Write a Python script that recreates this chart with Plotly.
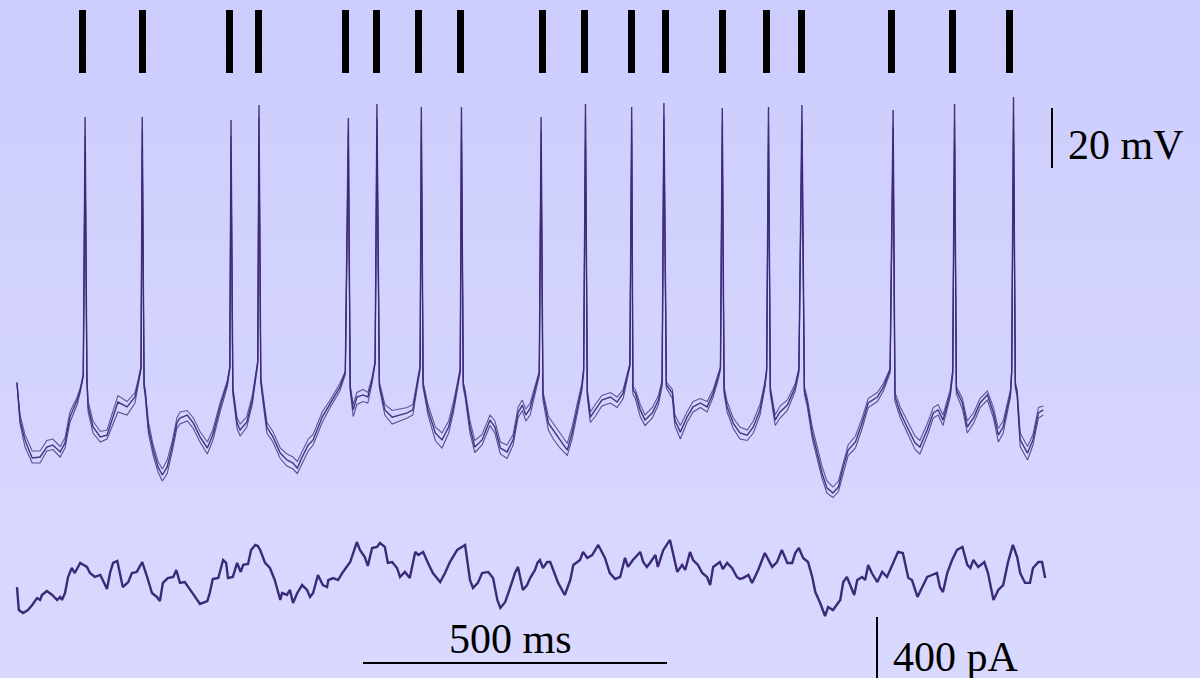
import plotly.graph_objects as go

# ---------------- data ----------------
# spike raster (ms)
spike_times_ms = [107, 206, 350, 398, 541, 591, 660, 729, 864, 934,
                  1010, 1066, 1160, 1232, 1291, 1439, 1538, 1632]

# membrane potential, sample times (ms)
t_ms = [0, 5, 13, 25, 38, 49, 59, 71, 79, 87, 99, 104, 109,
        112, 115,
        117, 125, 137, 148, 158, 166, 181, 194, 199, 204,
        206, 209,
        211, 216, 224, 232, 239, 247, 255, 263, 268, 280, 290, 301, 313, 322, 334, 346, 350,
        352, 355,
        362, 367, 378, 387, 392, 396,
        398, 401,
        405, 411, 421, 433, 444, 454, 461, 469, 479, 487, 502, 515, 531, 540,
        545, 548,
        553, 559, 569, 577, 584, 589,
        592, 596,
        605, 617, 630, 642, 651, 658, 663,
        665, 668,
        676, 688, 699, 710, 718, 726, 729,
        731, 734,
        737, 745, 753, 765, 778, 786, 795, 806, 816, 824, 831, 837, 844, 852, 859,
        862, 865,
        874, 882, 893, 905, 913, 921, 929, 932,
        935, 938,
        943, 951, 962, 976, 987, 997, 1005, 1008,
        1011, 1013,
        1017, 1025, 1033, 1045, 1055, 1061,
        1064, 1068,
        1078, 1082, 1091, 1102, 1112, 1124, 1135, 1145, 1153, 1157,
        1160, 1163,
        1168, 1178, 1189, 1201, 1211, 1222, 1230, 1233,
        1236, 1239,
        1247, 1255, 1267, 1280, 1286,
        1291, 1295,
        1300, 1308, 1316, 1324, 1332, 1342, 1351, 1359, 1367, 1379, 1390, 1400, 1415, 1425, 1436,
        1441, 1444,
        1453, 1464, 1477, 1485, 1497, 1507, 1515, 1523, 1535, 1539,
        1542, 1545,
        1555, 1563, 1574, 1584, 1596, 1606, 1614, 1622, 1634, 1636,
        1639, 1642,
        1645, 1650, 1662, 1671, 1680, 1688]

# membrane potential (mV), three overlaid trials
v_trial1 = [-44.3, -56.7, -63.3, -69.3, -69.0, -65.7, -65.0, -67.3, -64.3, -55.7, -50.0, -46.7, -41.7,
            44.3, -43.3,
            -52.3, -59.0, -62.3, -61.7, -55.7, -50.7, -52.3, -49.0, -44.3, -39.0,
            44.3, -45.0,
            -47.7, -59.0, -66.7, -72.3, -75.0, -72.3, -65.7, -57.7, -56.0, -55.0, -57.7, -62.3, -66.0, -61.7, -52.3, -44.3, -39.0,
            43.3, -46.7,
            -57.7, -60.0, -57.3, -50.0, -43.3, -37.3,
            48.3, -43.3,
            -50.0, -59.0, -62.3, -67.7, -70.0, -71.0, -72.7, -69.0, -65.0, -63.3, -55.7, -51.0, -45.7, -40.7,
            44.0, -45.7,
            -53.3, -49.0, -48.3, -49.0, -43.3, -37.3,
            48.7, -45.0,
            -53.3, -55.7, -55.0, -54.3, -53.3, -45.7, -39.0,
            47.7, -45.0,
            -53.3, -61.0, -63.3, -59.0, -52.3, -43.3, -40.0,
            47.7, -45.0,
            -47.7, -59.0, -65.7, -63.3, -56.7, -59.0, -66.0, -67.3, -63.3, -54.3, -51.7, -55.0, -52.7, -46.7, -41.0,
            44.3, -48.3,
            -57.7, -60.0, -63.3, -66.7, -61.0, -53.3, -45.7, -40.0,
            48.7, -47.7,
            -55.7, -53.3, -50.0, -49.0, -50.7, -47.7, -41.0, -38.3,
            47.7, -46.7,
            -47.7, -53.3, -56.7, -54.3, -50.0, -44.3,
            49.0, -45.0,
            -47.7, -56.7, -60.7, -55.7, -52.3, -51.0, -52.3, -47.7, -42.3, -39.3,
            47.3, -46.7,
            -52.3, -57.7, -61.0, -61.7, -59.0, -53.3, -45.0, -40.0,
            47.7, -46.7,
            -56.7, -54.0, -51.7, -45.7, -40.0,
            48.3, -46.7,
            -51.0, -61.0, -67.7, -74.3, -79.3, -81.0, -79.0, -72.3, -66.7, -64.0, -57.7, -51.0, -49.0, -45.7, -40.0,
            46.7, -49.0,
            -54.3, -59.0, -64.3, -65.7, -60.0, -54.3, -53.3, -56.7, -47.7, -40.7,
            48.7, -46.7,
            -51.0, -59.0, -55.7, -51.0, -48.3, -54.3, -61.7, -59.0, -47.7, -40.7,
            51.0, -45.0,
            -47.7, -63.3, -67.7, -63.3, -54.3, -53.3]

v_trial2 = [-44.0, -58.0, -65.5, -71.0, -71.0, -67.0, -66.5, -69.0, -66.0, -57.5, -51.5, -47.5, -42.0,
            38.0, -44.0,
            -54.0, -61.0, -64.0, -63.0, -58.0, -54.0, -55.0, -51.0, -45.5, -40.0,
            40.0, -46.0,
            -49.0, -61.0, -68.5, -74.0, -77.0, -74.5, -67.5, -59.5, -58.0, -57.0, -59.5, -64.0, -68.0, -63.5, -54.0, -45.5, -40.0,
            38.0, -48.0,
            -59.5, -62.0, -59.0, -51.5, -44.5, -38.0,
            44.0, -44.5,
            -51.5, -61.0, -64.0, -69.5, -72.0, -73.0, -74.5, -71.0, -67.0, -65.0, -57.5, -52.5, -47.0, -41.5,
            40.0, -47.0,
            -55.5, -51.5, -50.5, -51.0, -44.5, -38.0,
            44.0, -46.0,
            -55.0, -58.0, -57.0, -56.0, -55.0, -47.0, -40.0,
            43.0, -46.0,
            -55.0, -63.5, -66.0, -61.0, -54.0, -44.5, -41.0,
            43.0, -46.0,
            -49.0, -61.0, -67.5, -65.0, -58.5, -61.0, -68.0, -69.5, -65.0, -56.0, -53.5, -57.0, -55.0, -48.0, -42.0,
            40.0, -50.0,
            -60.0, -63.0, -66.0, -68.5, -63.0, -55.0, -47.0, -41.0,
            44.0, -49.0,
            -57.5, -55.5, -52.0, -51.0, -52.5, -49.5, -42.0, -39.0,
            43.0, -48.0,
            -49.5, -55.5, -58.5, -56.0, -51.5, -45.5,
            44.0, -46.0,
            -49.5, -58.5, -63.0, -57.5, -54.0, -52.5, -54.0, -49.0, -43.5, -40.0,
            42.0, -48.0,
            -54.0, -59.5, -63.0, -63.5, -61.0, -55.0, -46.0, -41.0,
            42.0, -48.0,
            -58.5, -56.0, -53.5, -47.0, -41.0,
            43.0, -48.0,
            -52.5, -63.0, -69.5, -76.0, -81.0, -82.5, -80.5, -74.0, -68.5, -66.0, -59.5, -52.5, -50.5, -47.0, -41.0,
            41.0, -50.5,
            -56.0, -61.0, -66.5, -68.0, -62.0, -56.0, -55.0, -58.5, -49.0, -41.5,
            43.0, -48.0,
            -53.0, -61.0, -57.5, -52.5, -50.0, -56.0, -64.0, -61.0, -49.0, -41.5,
            45.0, -46.0,
            -49.0, -65.5, -70.0, -65.0, -56.0, -55.0]

v_trial3 = [-45.0, -55.0, -61.5, -67.0, -67.0, -63.5, -63.0, -65.5, -62.5, -54.0, -49.0, -46.0, -41.5,
            32.0, -43.0,
            -50.5, -57.0, -60.5, -60.0, -54.0, -48.5, -50.5, -47.5, -43.5, -39.0,
            34.0, -44.5,
            -46.5, -57.0, -65.0, -70.5, -73.0, -70.0, -64.0, -56.0, -54.0, -53.5, -56.0, -60.5, -64.0, -60.0, -51.0, -43.5, -39.0,
            32.0, -45.5,
            -56.0, -58.0, -55.5, -48.5, -42.5, -37.0,
            38.0, -42.5,
            -48.5, -57.5, -60.5, -66.0, -68.0, -69.0, -70.5, -67.0, -63.0, -61.5, -54.0, -50.0, -44.5, -40.5,
            33.0, -45.0,
            -51.5, -47.5, -46.5, -47.5, -42.5, -37.0,
            37.0, -44.0,
            -51.5, -53.5, -53.0, -52.5, -51.5, -44.5, -38.5,
            36.0, -44.0,
            -51.5, -59.0, -61.0, -57.0, -50.5, -42.5, -39.5,
            37.0, -44.0,
            -46.5, -57.0, -63.5, -61.5, -55.0, -57.0, -64.0, -65.0, -61.5, -52.5, -50.0, -53.0, -51.0, -45.5, -40.5,
            33.0, -47.0,
            -55.5, -58.0, -61.0, -64.5, -59.0, -51.5, -44.5, -39.5,
            37.0, -46.5,
            -54.0, -51.5, -48.5, -47.5, -49.0, -46.5, -40.5, -38.0,
            36.0, -45.5,
            -46.5, -51.5, -55.0, -52.5, -48.5, -43.5,
            38.0, -44.0,
            -46.5, -55.0, -58.5, -54.0, -50.5, -49.5, -50.5, -46.5, -41.5, -39.0,
            35.0, -45.5,
            -50.5, -56.0, -59.0, -60.0, -57.0, -51.5, -44.0, -39.5,
            36.0, -45.5,
            -55.0, -52.0, -50.0, -44.5, -39.5,
            37.0, -45.5,
            -49.5, -59.0, -65.5, -72.0, -77.0, -79.0, -77.0, -70.5, -65.0, -62.0, -56.0, -49.5, -47.5, -44.5, -39.5,
            35.0, -47.5,
            -52.5, -57.0, -62.0, -63.5, -58.0, -52.5, -51.5, -55.0, -46.5, -40.0,
            37.0, -45.5,
            -49.5, -57.0, -54.0, -49.5, -47.0, -52.5, -59.5, -57.0, -46.5, -40.0,
            39.0, -44.0,
            -46.5, -61.0, -65.5, -61.5, -52.5, -52.0]

# injected current, sample times (ms) and values (pA)
t_cur_ms = [0, 3, 10, 18, 25, 33, 38, 41, 49, 58, 66, 71, 74, 79, 84, 90, 95, 104, 115, 120,
            128, 137, 141, 148, 153, 158, 165, 169, 174, 183, 189, 197, 206, 214, 222, 230,
            235, 240, 248, 257, 262, 268, 276, 285, 293, 301, 313, 317, 322, 331, 339, 344,
            347, 355, 362, 368, 372, 380, 385, 392, 396, 400, 408, 416, 424, 428, 433, 436,
            444, 449, 454, 461, 469, 477, 482, 487, 495, 503, 510, 512, 520, 528, 535, 548,
            553, 559, 564, 572, 577, 584, 592, 597, 605, 610, 617, 625, 630, 638, 646, 655,
            660, 668, 676, 684, 696, 704, 712, 724, 737, 745, 750, 758, 765, 775, 783, 790,
            795, 803, 811, 819, 824, 832, 839, 844, 852, 856, 860, 865, 872, 877, 882, 890,
            901, 910, 915, 926, 931, 938, 946, 956, 967, 975, 984, 992, 1000, 1005, 1013, 1025,
            1030, 1036, 1041, 1050, 1054, 1063, 1074, 1079, 1086, 1094, 1099, 1107, 1112, 1120,
            1127, 1135, 1140, 1145, 1156, 1161, 1168, 1176, 1184, 1189, 1194, 1203, 1209, 1219,
            1230, 1242, 1250, 1258, 1267, 1275, 1280, 1286, 1293, 1301, 1308, 1313, 1321, 1329,
            1334, 1342, 1354, 1359, 1365, 1377, 1382, 1390, 1395, 1400, 1406, 1415, 1423, 1431,
            1441, 1449, 1457, 1466, 1472, 1481, 1489, 1497, 1505, 1513, 1518, 1523, 1530, 1538,
            1546, 1555, 1563, 1568, 1573, 1581, 1591, 1597, 1606, 1614, 1622, 1630, 1638, 1645,
            1650, 1658, 1666, 1671, 1680, 1686, 1691]
i_pa = [85, -66, -85, -66, -33, 13, 0, 33, 59, 33, 0, 20, 0, 46, 151, 210, 177, 243, 217, 177,
        151, 164, 131, 72, 177, 243, 256, 177, 85, 118, 177, 184, 249, 151, 46, 20,
        -7, 112, 144, 151, 197, 112, 118, 66, 20, -26, -7, 46, 138, 144, 262, 243,
        144, 151, 243, 184, 230, 236, 328, 361, 354, 328, 243, 210, 131, 66, 0, 46,
        33, 66, -20, 46, 98, 66, 20, 46, 164, 98, 85, 131, 144, 131, 177, 249,
        308, 380, 328, 282, 223, 341, 348, 374, 348, 243, 249, 210, 151, 184, 144, 315,
        295, 315, 243, 177, 118, 177, 249, 328, 361, 131, 79, 112, 177, 184, 144, 0,
        -52, -13, 79, 177, 217, 66, 98, 144, 197, 243, 262, 210, 249, 249, 197, 112,
        33, 131, 230, 262, 315, 276, 295, 361, 276, 177, 138, 151, 276, 217, 262, 315,
        249, 217, 243, 295, 217, 328, 394, 308, 184, 230, 197, 315, 262, 230,
        177, 151, 98, 217, 249, 203, 243, 210, 151, 138, 144, 164, 112, 197,
        308, 217, 249, 328, 243, 243, 308, 341, 276, 249, 151, 52, -20, -105,
        -46, -66, 0, 118, 151, 33, 131, 151, 131, 230, 177, 118, 184, 151,
        243, 315, 308, 144, 131, 20, 85, 151, 164, 177, 85, 52, 177, 262,
        328, 348, 230, 210, 262, 217, 249, 177, 0, 66, 98, 249, 361, 282,
        177, 112, 112, 210, 249, 249, 144]

# scale bars (label, size in data units)
scale_labels = ["20 mV", "500 ms", "400 pA"]
scale_sizes = [20, 500, 400]

# ---------------- styling ----------------
TRACE = "#3b2a78"
FONT = "Liberation Serif"

fig = go.Figure()

# background: faint vertical gradient bands
n_bands = 14
top_rgb = (205, 205, 254)
bot_rgb = (217, 217, 255)
shapes = []
for k in range(n_bands):
    f = k / (n_bands - 1)
    c = tuple(round(top_rgb[j] + (bot_rgb[j] - top_rgb[j]) * f) for j in range(3))
    shapes.append(dict(type="rect", xref="paper", yref="paper", x0=0, x1=1,
                       y0=1 - (k + 1) / n_bands, y1=1 - k / n_bands,
                       fillcolor="rgb(%d,%d,%d)" % c, line=dict(width=0), layer="below"))

# voltage trials
for v, w, op in [(v_trial3, 1.1, 0.75), (v_trial2, 1.1, 0.8), (v_trial1, 1.4, 0.95)]:
    fig.add_trace(go.Scatter(x=t_ms, y=v, mode="lines", line=dict(color=TRACE, width=w),
                             opacity=op, hoverinfo="skip", showlegend=False, yaxis="y"))

# current trace
fig.add_trace(go.Scatter(x=t_cur_ms, y=i_pa, mode="lines", line=dict(color=TRACE, width=2.4),
                         hoverinfo="skip", showlegend=False, yaxis="y2"))

# spike raster as thin bars
fig.add_trace(go.Bar(x=spike_times_ms, y=[1] * len(spike_times_ms), base=0,
                     width=11.5, marker=dict(color="black", line=dict(width=0)),
                     hoverinfo="skip", showlegend=False, yaxis="y3"))

# pixel -> data helpers for the layout frame (x: ms, y: mV / pA)
px_per_ms = 0.608
x0_px = 17
x_range = [-x0_px / px_per_ms, (1200 - x0_px) / px_per_ms]
v_range = [(430 - 678) / 3 - 60, 430 / 3 - 60]          # 3 px per mV
pa_per_px = 400 / 61
i_range = [(600 - 678) * pa_per_px, 600 * pa_per_px]

def tx(px):
    return (px - x0_px) / px_per_ms

# scale bars
bar = dict(color="black", width=2)
shapes.append(dict(type="line", xref="x", yref="y", x0=tx(1052), x1=tx(1052),
                   y0=(430 - 168) / 3 - 60, y1=(430 - 168) / 3 - 60 + scale_sizes[0], line=bar))
shapes.append(dict(type="line", xref="x", yref="y2", x0=tx(363), x1=tx(363) + scale_sizes[1],
                   y0=(600 - 663) * pa_per_px, y1=(600 - 663) * pa_per_px, line=bar))
shapes.append(dict(type="line", xref="x", yref="y2", x0=tx(877), x1=tx(877),
                   y0=(600 - 617) * pa_per_px - scale_sizes[2], y1=(600 - 617) * pa_per_px, line=bar))

font = dict(family=FONT, size=42, color="black")
annotations = [
    dict(text=scale_labels[0], x=tx(1066), y=(430 - 145) / 3 - 60, xref="x", yref="y",
         xanchor="left", yanchor="middle", showarrow=False, font=font),
    dict(text=scale_labels[1], x=tx(510), y=(600 - 639) * pa_per_px, xref="x", yref="y2",
         xanchor="center", yanchor="middle", showarrow=False, font=font),
    dict(text=scale_labels[2], x=tx(891), y=(600 - 657) * pa_per_px, xref="x", yref="y2",
         xanchor="left", yanchor="middle", showarrow=False, font=font),
]

fig.update_layout(
    width=1200, height=678,
    margin=dict(l=0, r=0, t=0, b=0),
    paper_bgcolor="rgb(211,211,255)",
    plot_bgcolor="rgba(0,0,0,0)",
    shapes=shapes,
    annotations=annotations,
    showlegend=False,
    bargap=0,
    xaxis=dict(range=x_range, visible=False, fixedrange=True),
    yaxis=dict(range=v_range, visible=False, fixedrange=True),
    yaxis2=dict(range=i_range, visible=False, overlaying="y", fixedrange=True),
    yaxis3=dict(range=[-(678 - 73) / 63, 10 / 63 + 1], visible=False, overlaying="y", fixedrange=True),
)

fig.write_html("out.html", config={"displayModeBar": False, "staticPlot": True},
               post_script="document.body.style.margin='0px';document.body.style.overflow='hidden';")
